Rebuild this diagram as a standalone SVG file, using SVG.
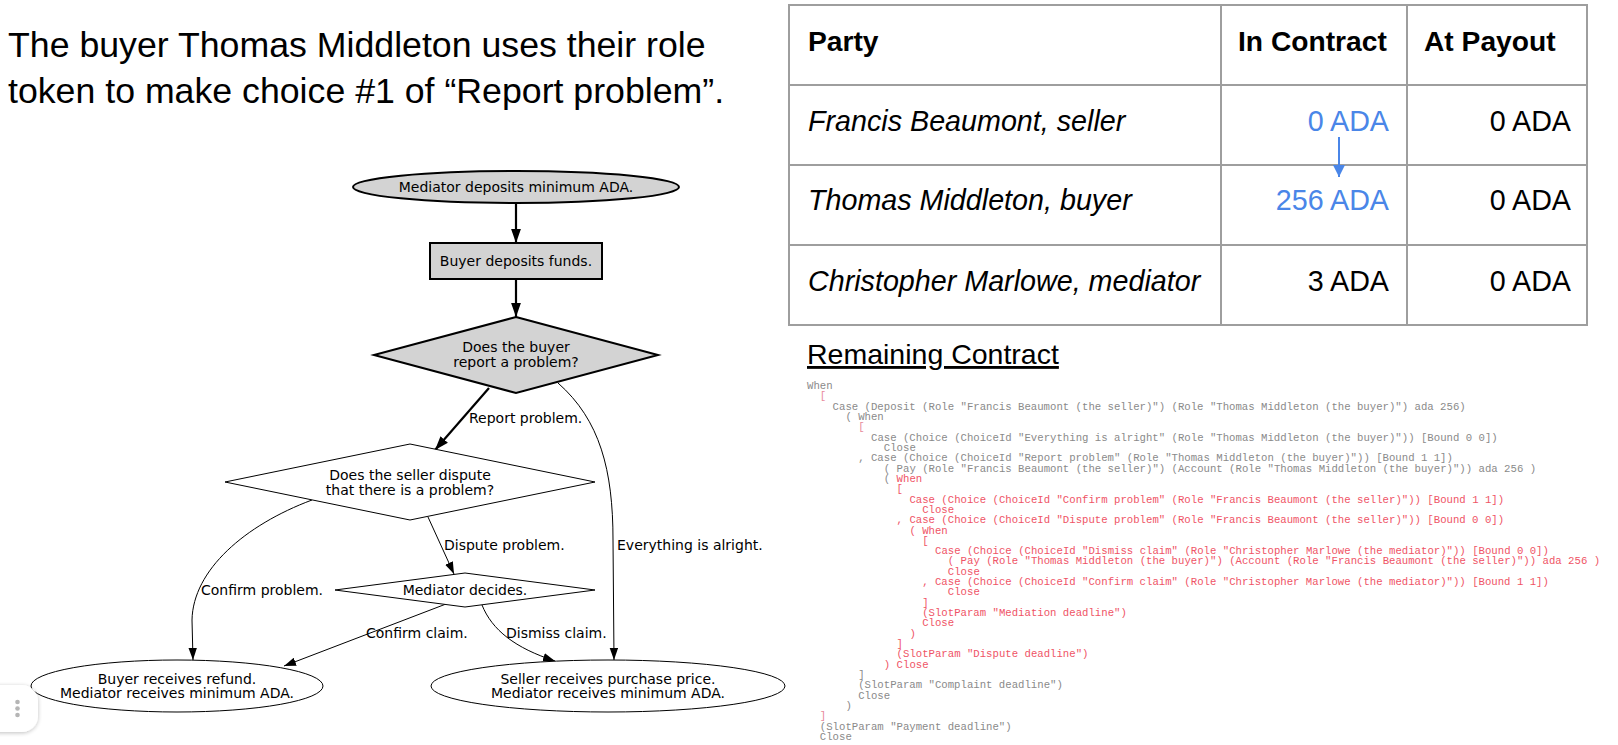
<svg xmlns="http://www.w3.org/2000/svg" width="1618" height="745" viewBox="0 0 1618 745">
<style>
.title{font-family:"Liberation Sans",Arial,sans-serif;font-size:35.7px;fill:#000}
.th{font-family:"Liberation Sans",Arial,sans-serif;font-size:28.2px;font-weight:bold;fill:#000}
.td{font-family:"Liberation Sans",Arial,sans-serif;font-size:28.7px;fill:#000}
.hd{font-family:"Liberation Sans",Arial,sans-serif;font-size:28.5px;fill:#000}
.it{font-style:italic}
.blue{fill:#4a86e8}
.grid{stroke:#9e9e9e;stroke-width:2;fill:none}
.code{font-family:"Liberation Mono","Courier New",monospace;font-size:10.67px;fill:#8a8a8a}
.r{fill:#ef5466}
.br{fill:#e8899a}
.fl{font-family:"DejaVu Sans",Verdana,sans-serif;font-size:14px;fill:#000}
.c{text-anchor:middle}
.grey{fill:#d3d3d3;stroke:#000;stroke-width:2}
.wht{fill:#fff;stroke:#000;stroke-width:1}
.e{fill:none;stroke:#000;stroke-width:1}
.eb{fill:none;stroke:#000;stroke-width:2.2}
</style>
<defs>
<marker id="ah" markerUnits="userSpaceOnUse" markerWidth="12" markerHeight="9" viewBox="0 0 10 7" refX="10" refY="3.5" orient="auto"><path d="M0,0 L10,3.5 L0,7 z" fill="#000"/></marker>
<marker id="ahb" markerUnits="userSpaceOnUse" markerWidth="14" markerHeight="11" viewBox="0 0 10 7" refX="10" refY="3.5" orient="auto"><path d="M0,0 L10,3.5 L0,7 z" fill="#000"/></marker>
<marker id="ahblue" markerUnits="userSpaceOnUse" markerWidth="12" markerHeight="12" viewBox="0 0 10 10" refX="10" refY="5" orient="auto"><path d="M0,0 L10,5 L0,10 z" fill="#4a86e8"/></marker>
<filter id="sh" x="-50%" y="-50%" width="200%" height="200%"><feGaussianBlur in="SourceAlpha" stdDeviation="2"/><feOffset dy="1"/><feComponentTransfer><feFuncA type="linear" slope="0.25"/></feComponentTransfer><feMerge><feMergeNode/><feMergeNode in="SourceGraphic"/></feMerge></filter>
</defs>
<rect width="1618" height="745" fill="#fff"/>

<g id="title">
<text class="title" x="8" y="57">The buyer Thomas Middleton uses their role</text>
<text class="title" x="8" y="103">token to make choice #1 of “Report problem”.</text>
</g>

<g id="table">
<rect class="grid" x="789" y="5" width="798" height="320"/>
<line class="grid" x1="789" y1="85" x2="1587" y2="85"/>
<line class="grid" x1="789" y1="165" x2="1587" y2="165"/>
<line class="grid" x1="789" y1="245" x2="1587" y2="245"/>
<line class="grid" x1="1221" y1="5" x2="1221" y2="325"/>
<line class="grid" x1="1407" y1="5" x2="1407" y2="325"/>
<text class="th" x="808" y="51">Party</text>
<text class="th" x="1238" y="51">In Contract</text>
<text class="th" x="1424" y="51">At Payout</text>
<text class="td it" x="808" y="131">Francis Beaumont, seller</text>
<text class="td blue" x="1389" y="131" text-anchor="end">0 ADA</text>
<text class="td" x="1571" y="131" text-anchor="end">0 ADA</text>
<text class="td it" x="808" y="210">Thomas Middleton, buyer</text>
<text class="td blue" x="1389" y="210" text-anchor="end">256 ADA</text>
<text class="td" x="1571" y="210" text-anchor="end">0 ADA</text>
<text class="td it" x="808" y="291">Christopher Marlowe, mediator</text>
<text class="td" x="1389" y="291" text-anchor="end">3 ADA</text>
<text class="td" x="1571" y="291" text-anchor="end">0 ADA</text>
<line x1="1339" y1="137" x2="1339" y2="177" stroke="#4a86e8" stroke-width="2" marker-end="url(#ahblue)"/>
</g>

<g id="remaining-contract">
<text class="hd" x="807" y="364" text-decoration="underline">Remaining Contract</text>
<text class="code" x="807" y="389">When</text>
<text class="code br" x="819.8" y="399.3">[</text>
<text class="code" x="832.6" y="409.6">Case (Deposit (Role "Francis Beaumont (the seller)") (Role "Thomas Middleton (the buyer)") ada 256)</text>
<text class="code" x="845.4" y="420">( When</text>
<text class="code br" x="858.2" y="430.3">[</text>
<text class="code" x="871" y="440.6">Case (Choice (ChoiceId "Everything is alright" (Role "Thomas Middleton (the buyer)")) [Bound 0 0])</text>
<text class="code" x="883.8" y="450.9">Close</text>
<text class="code" x="858.2" y="461.2">, Case (Choice (ChoiceId "Report problem" (Role "Thomas Middleton (the buyer)")) [Bound 1 1])</text>
<text class="code" x="883.8" y="471.6">( Pay (Role "Francis Beaumont (the seller)") (Account (Role "Thomas Middleton (the buyer)")) ada 256 )</text>
<text class="code" x="883.8" y="481.9">( <tspan class="r">When</tspan></text>
<text class="code r" x="896.6" y="492.2">[</text>
<text class="code r" x="909.4" y="502.5">Case (Choice (ChoiceId "Confirm problem" (Role "Francis Beaumont (the seller)")) [Bound 1 1])</text>
<text class="code r" x="922.2" y="512.8">Close</text>
<text class="code r" x="896.6" y="523.2">, Case (Choice (ChoiceId "Dispute problem" (Role "Francis Beaumont (the seller)")) [Bound 0 0])</text>
<text class="code r" x="909.4" y="533.5">( When</text>
<text class="code r" x="922.2" y="543.8">[</text>
<text class="code r" x="935" y="554.1">Case (Choice (ChoiceId "Dismiss claim" (Role "Christopher Marlowe (the mediator)")) [Bound 0 0])</text>
<text class="code r" x="947.8" y="564.4">( Pay (Role "Thomas Middleton (the buyer)") (Account (Role "Francis Beaumont (the seller)")) ada 256 )</text>
<text class="code r" x="947.8" y="574.8">Close</text>
<text class="code r" x="922.2" y="585.1">, Case (Choice (ChoiceId "Confirm claim" (Role "Christopher Marlowe (the mediator)")) [Bound 1 1])</text>
<text class="code r" x="947.8" y="595.4">Close</text>
<text class="code r" x="922.2" y="605.7">]</text>
<text class="code r" x="922.2" y="616">(SlotParam "Mediation deadline")</text>
<text class="code r" x="922.2" y="626.4">Close</text>
<text class="code r" x="909.4" y="636.7">)</text>
<text class="code r" x="896.6" y="647">]</text>
<text class="code r" x="896.6" y="657.3">(SlotParam "Dispute deadline")</text>
<text class="code r" x="883.8" y="667.6">) Close</text>
<text class="code" x="858.2" y="678">]</text>
<text class="code" x="858.2" y="688.3">(SlotParam "Complaint deadline")</text>
<text class="code" x="858.2" y="698.6">Close</text>
<text class="code" x="845.4" y="708.9">)</text>
<text class="code br" x="819.8" y="719.2">]</text>
<text class="code" x="819.8" y="729.6">(SlotParam "Payment deadline")</text>
<text class="code" x="819.8" y="739.9">Close</text>
</g>

<g id="connectors">
<line class="eb" x1="516" y1="204" x2="516" y2="243" marker-end="url(#ahb)"/>
<line class="eb" x1="516" y1="280" x2="516" y2="317" marker-end="url(#ahb)"/>
<path class="eb" d="M489,388 L435,450" marker-end="url(#ahb)"/>
<path class="e" d="M558,383 C600,420 613,470 613,540 L614,660" marker-end="url(#ah)"/>
<path class="e" d="M312,500 C245,525 193,570 192,620 L193,660" marker-end="url(#ah)"/>
<path class="e" d="M428,517 L454,574" marker-end="url(#ah)"/>
<path class="e" d="M446,604 L284,666" marker-end="url(#ah)"/>
<path class="e" d="M482,605 C492,630 515,648 555,661" marker-end="url(#ah)"/>
<text class="fl" x="469" y="423">Report problem.</text>
<text class="fl" x="617" y="550">Everything is alright.</text>
<text class="fl" x="444" y="550">Dispute problem.</text>
<text class="fl" x="201" y="595">Confirm problem.</text>
<text class="fl" x="366" y="638">Confirm claim.</text>
<text class="fl" x="506" y="638">Dismiss claim.</text>
</g>

<g id="n-mediator-deposits">
<ellipse class="grey" cx="516" cy="187" rx="163" ry="16"/>
<text class="fl c" x="516" y="192">Mediator deposits minimum ADA.</text>
</g>
<g id="n-buyer-deposits">
<rect class="grey" x="430" y="243" width="172" height="36"/>
<text class="fl c" x="516" y="266">Buyer deposits funds.</text>
</g>
<g id="n-buyer-report">
<polygon class="grey" points="516,317 658,355 516,393 374,355"/>
<text class="fl c" x="516" y="352">Does the buyer</text>
<text class="fl c" x="516" y="367">report a problem?</text>
</g>
<g id="n-seller-dispute">
<polygon class="wht" points="410,444 595,482 410,520 225,482"/>
<text class="fl c" x="410" y="480">Does the seller dispute</text>
<text class="fl c" x="410" y="495">that there is a problem?</text>
</g>
<g id="n-mediator-decides">
<polygon class="wht" points="465,573 595,590 465,607 335,590"/>
<text class="fl c" x="465" y="595">Mediator decides.</text>
</g>
<g id="n-buyer-refund">
<ellipse class="wht" cx="177" cy="686" rx="146" ry="26"/>
<text class="fl c" x="177" y="684">Buyer receives refund.</text>
<text class="fl c" x="177" y="698">Mediator receives minimum ADA.</text>
</g>
<g id="n-seller-price">
<ellipse class="wht" cx="608" cy="686" rx="177" ry="26"/>
<text class="fl c" x="608" y="684">Seller receives purchase price.</text>
<text class="fl c" x="608" y="698">Mediator receives minimum ADA.</text>
</g>

<g id="menu-button">
<rect x="-20" y="685" width="58" height="47" rx="16" fill="#fff" filter="url(#sh)"/>
<circle cx="17.5" cy="702" r="2.3" fill="#b5b5b5"/>
<circle cx="17.5" cy="708.5" r="2.3" fill="#b5b5b5"/>
<circle cx="17.5" cy="715" r="2.3" fill="#b5b5b5"/>
</g>
</svg>
